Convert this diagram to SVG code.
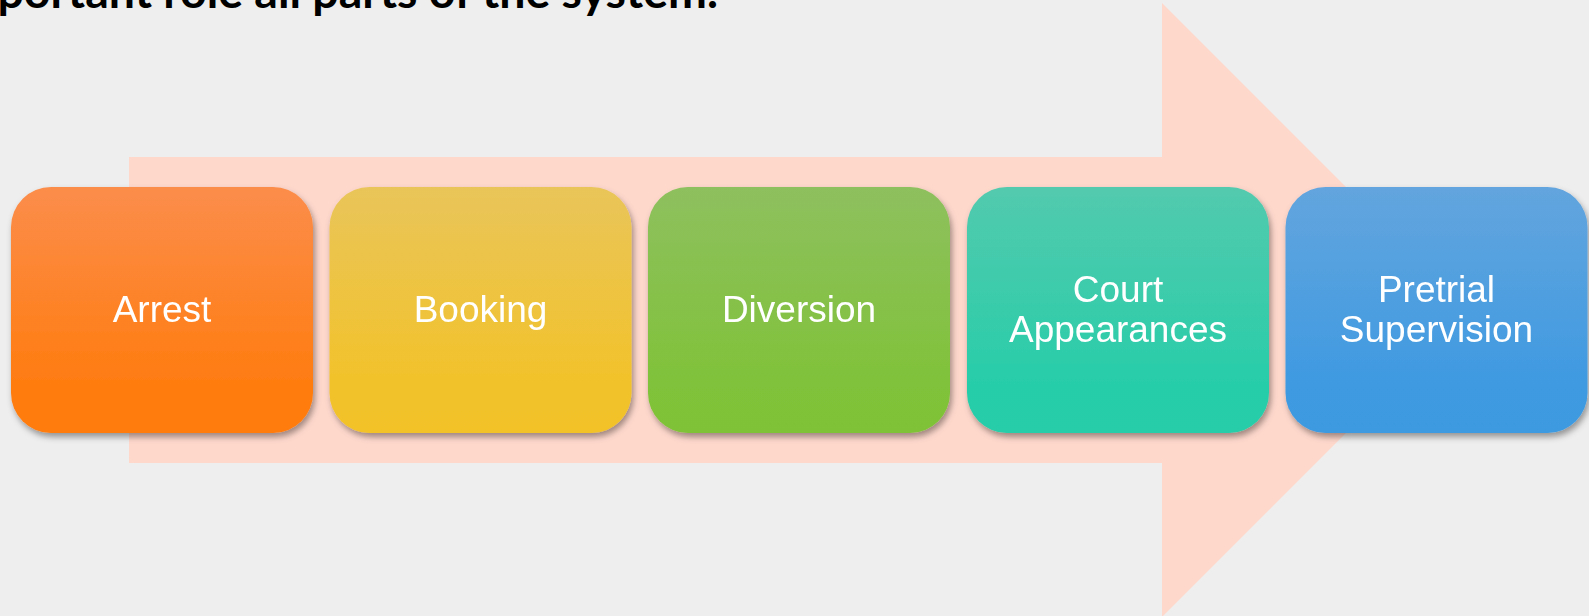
<svg xmlns="http://www.w3.org/2000/svg" width="1589" height="616" viewBox="0 0 1589 616">
  <style>
    .lbl { font-family: "Liberation Sans", Arial, sans-serif; font-size: 37px; fill: #ffffff; text-anchor: middle; }
    .title { font-family: Lato, "Noto Sans", sans-serif; font-weight: bold; font-size: 46.5px; fill: #000000; }
  </style>
  <defs>
    <filter id="sh" x="-10%" y="-10%" width="125%" height="130%">
      <feDropShadow dx="2" dy="4" stdDeviation="3" flood-color="#000000" flood-opacity="0.38"/>
    </filter>
    <linearGradient id="g1" x1="0" y1="0" x2="0" y2="1">
      <stop offset="0" stop-color="#FB8D4B"/><stop offset="0.8" stop-color="#FF7C10"/><stop offset="1" stop-color="#FF7B0E"/>
    </linearGradient>
    <linearGradient id="g2" x1="0" y1="0" x2="0" y2="1">
      <stop offset="0" stop-color="#E9C55A"/><stop offset="0.8" stop-color="#F2C22A"/><stop offset="1" stop-color="#F2C228"/>
    </linearGradient>
    <linearGradient id="g3" x1="0" y1="0" x2="0" y2="1">
      <stop offset="0" stop-color="#8EC05E"/><stop offset="0.8" stop-color="#80C23A"/><stop offset="1" stop-color="#7FC238"/>
    </linearGradient>
    <linearGradient id="g4" x1="0" y1="0" x2="0" y2="1">
      <stop offset="0" stop-color="#53CAAE"/><stop offset="0.8" stop-color="#28CDA9"/><stop offset="1" stop-color="#27CDA8"/>
    </linearGradient>
    <linearGradient id="g5" x1="0" y1="0" x2="0" y2="1">
      <stop offset="0" stop-color="#63A5DE"/><stop offset="0.8" stop-color="#3F9AE1"/><stop offset="1" stop-color="#3E9AE1"/>
    </linearGradient>
  </defs>
  <rect x="0" y="0" width="1589" height="616" fill="#EEEEEE"/>
  <text class="title" x="718" y="8" text-anchor="end">important role all parts of the system.</text>
  <g id="connectors">
    <polygon points="129,157 1162,157 1162,3 1469,310 1162,617 1162,463 129,463" fill="#FFD8CC"/>
  </g>
  <g id="arrest" filter="url(#sh)">
    <rect x="11" y="187" width="302" height="246" rx="40" ry="40" fill="url(#g1)"/>
    <text class="lbl" x="162" y="322">Arrest</text>
  </g>
  <g id="booking" filter="url(#sh)">
    <rect x="329.5" y="187" width="302" height="246" rx="40" ry="40" fill="url(#g2)"/>
    <text class="lbl" x="480.5" y="322">Booking</text>
  </g>
  <g id="diversion" filter="url(#sh)">
    <rect x="648" y="187" width="302" height="246" rx="40" ry="40" fill="url(#g3)"/>
    <text class="lbl" x="799" y="322">Diversion</text>
  </g>
  <g id="court" filter="url(#sh)">
    <rect x="967" y="187" width="302" height="246" rx="40" ry="40" fill="url(#g4)"/>
    <text class="lbl" x="1118" y="302">Court</text>
    <text class="lbl" x="1118" y="342">Appearances</text>
  </g>
  <g id="pretrial" filter="url(#sh)">
    <rect x="1285.5" y="187" width="302" height="246" rx="40" ry="40" fill="url(#g5)"/>
    <text class="lbl" x="1436.5" y="302">Pretrial</text>
    <text class="lbl" x="1436.5" y="342">Supervision</text>
  </g>
</svg>
